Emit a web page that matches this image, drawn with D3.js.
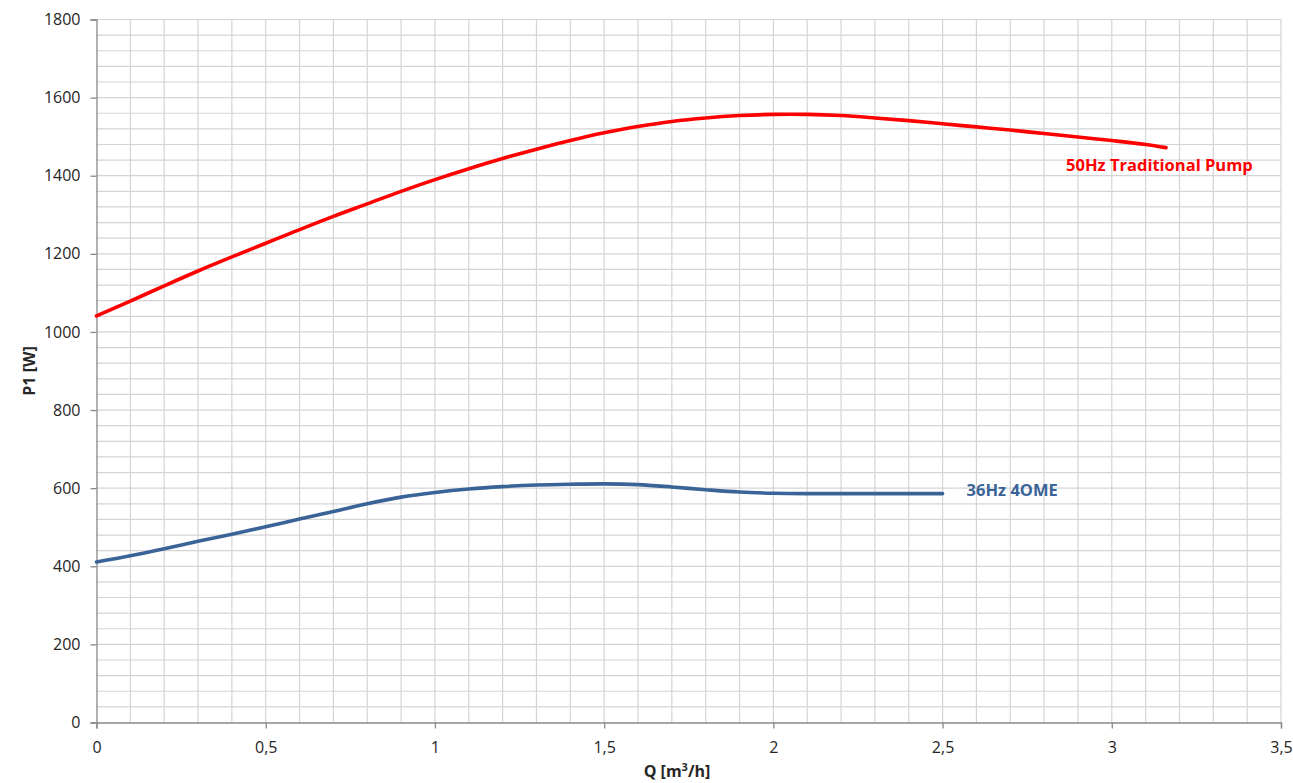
<!DOCTYPE html>
<html>
<head>
<meta charset="utf-8">
<script src="https://cdn.jsdelivr.net/npm/d3@7"></script>
<style>
  body { margin: 0; background: #fff; }
  svg { display: block; font-family: "Open Sans", "Liberation Sans", sans-serif; }
  .tick-label { font-size: 16px; fill: #262626; }
  .axis-title { font-size: 16px; font-weight: 700; fill: #262626; }
  .series-label { font-size: 16.5px; font-weight: 700; }
</style>
</head>
<body>
<svg id="chart" width="1293" height="783"></svg>
<script>
  // Q [m3/h] sample points
  const qTraditional = [0, 0.1, 0.2, 0.3, 0.4, 0.5, 0.6, 0.7, 0.8, 0.9, 1.0, 1.1, 1.2, 1.3, 1.4, 1.5,
    1.6, 1.7, 1.8, 1.9, 2.0, 2.1, 2.2, 2.3, 2.4, 2.5, 2.6, 2.7, 2.8, 2.9, 3.0, 3.1, 3.16];
  const p1Traditional = [1041, 1079, 1118, 1156, 1192, 1227, 1262, 1296, 1328, 1360, 1390, 1418, 1444, 1468, 1490, 1510,
    1526, 1539, 1548, 1554, 1557, 1557, 1554, 1548, 1541, 1533, 1525, 1517, 1508, 1499, 1490, 1480, 1472];

  const qOme = [0, 0.1, 0.2, 0.3, 0.4, 0.5, 0.6, 0.7, 0.8, 0.9, 1.0, 1.1, 1.2, 1.3, 1.4, 1.5,
    1.6, 1.7, 1.8, 1.9, 2.0, 2.1, 2.2, 2.3, 2.4, 2.5];
  const p1Ome = [411, 427, 445, 464, 482, 501, 521, 540, 560, 577, 589, 598, 604, 608, 610, 611,
    609, 603, 596, 590, 587, 586, 586, 586, 586, 586];

  const xTicks = [0, 0.5, 1, 1.5, 2, 2.5, 3, 3.5];
  const yTicks = [0, 200, 400, 600, 800, 1000, 1200, 1400, 1600, 1800];

  const series = [
    { name: "50Hz Traditional Pump", q: qTraditional, p: p1Traditional, color: "#ff0000", labelAt: [2.865, 1412] },
    { name: "36Hz 4OME", q: qOme, p: p1Ome, color: "#3a6497", labelAt: [2.571, 580] }
  ];

  const svg = d3.select("#chart");
  const width = 1293;
  const height = 783;
  const margin = { top: 19.5, right: 12, bottom: 60.5, left: 96.5 };

  const x = d3.scaleLinear().domain([0, 3.5]).range([margin.left, width - margin.right]);
  const y = d3.scaleLinear().domain([0, 1800]).range([height - margin.bottom, margin.top]);

  const fmt = d => String(d).replace(".", ",");

  // grid: 0.1 on x, 40 W on y
  const grid = svg.append("g").attr("stroke", "#d4d4d4").attr("stroke-width", 1.2);
  grid.selectAll("line.v")
    .data(d3.range(1, 36).map(i => i / 10))
    .join("line")
    .attr("x1", d => x(d)).attr("x2", d => x(d))
    .attr("y1", y(0)).attr("y2", y(1800));
  grid.selectAll("line.h")
    .data(d3.range(1, 46).map(i => i * 40))
    .join("line")
    .attr("x1", x(0)).attr("x2", x(3.5))
    .attr("y1", d => y(d)).attr("y2", d => y(d));

  // axes
  const xAxis = svg.append("g")
    .attr("transform", `translate(0,${y(0)})`)
    .call(d3.axisBottom(x).tickValues(xTicks).tickSize(6).tickPadding(13).tickFormat(fmt));
  const yAxis = svg.append("g")
    .attr("transform", `translate(${x(0)},0)`)
    .call(d3.axisLeft(y).tickValues(yTicks).tickSize(6).tickPadding(10).tickFormat(d => d));

  [xAxis, yAxis].forEach(a => {
    a.attr("font-family", null).attr("font-size", null);
    a.select(".domain").attr("stroke", "#898989").attr("stroke-width", 1.3);
    a.selectAll(".tick line").attr("stroke", "#898989").attr("stroke-width", 1.3);
    a.selectAll(".tick text").attr("class", "tick-label");
  });

  // curves
  const line = d3.line().curve(d3.curveCatmullRom.alpha(0.5));
  series.forEach(s => {
    svg.append("path")
      .attr("d", line(s.q.map((q, i) => [x(q), y(s.p[i])])))
      .attr("fill", "none")
      .attr("stroke", s.color)
      .attr("stroke-width", 3.6)
      .attr("stroke-linecap", "round");

    svg.append("text")
      .attr("class", "series-label")
      .attr("x", x(s.labelAt[0]))
      .attr("y", y(s.labelAt[1]))
      .attr("fill", s.color)
      .text(s.name);
  });

  // axis titles
  svg.append("text")
    .attr("class", "axis-title")
    .attr("transform", `translate(35,${(y(0) + y(1800)) / 2}) rotate(-90)`)
    .attr("text-anchor", "middle")
    .text("P1 [W]");

  const qTitle = svg.append("text")
    .attr("class", "axis-title")
    .attr("x", 677)
    .attr("y", 777)
    .attr("text-anchor", "middle");
  qTitle.append("tspan").text("Q [m");
  qTitle.append("tspan").attr("font-size", "11px").attr("dy", "-6").text("3");
  qTitle.append("tspan").attr("dy", "6").text("/h]");
</script>
</body>
</html>
